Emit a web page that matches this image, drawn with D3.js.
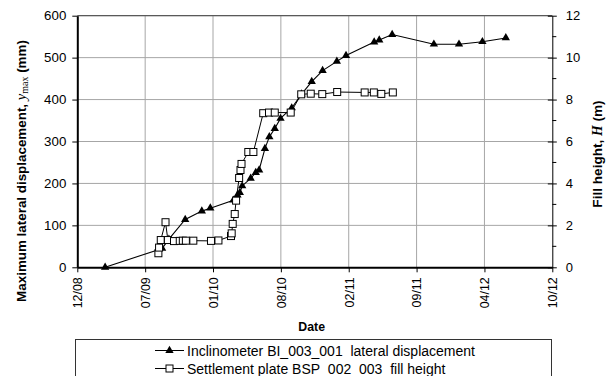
<!DOCTYPE html>
<html>
<head>
<meta charset="utf-8">
<script src="https://cdn.jsdelivr.net/npm/d3@7"></script>
<style>
  html, body { margin: 0; padding: 0; background: #fff; }
  svg { display: block; font-family: "Liberation Sans", Arial, sans-serif; }
</style>
</head>
<body>
<svg id="chart" width="611" height="376"></svg>
<script>
// Inclinometer BI_003_001: maximum lateral displacement (mm)
const inclDates = ["2009-03-10","2009-08-25","2009-09-14","2009-11-01","2009-12-20","2010-01-14",
  "2010-03-23","2010-04-04","2010-04-11","2010-04-18","2010-05-13","2010-05-28","2010-06-07",
  "2010-06-24","2010-07-07","2010-07-23","2010-08-09","2010-09-11","2010-10-10","2010-11-09",
  "2010-12-11","2011-01-22","2011-02-18","2011-05-12","2011-05-27","2011-07-04","2011-11-04",
  "2012-01-17","2012-03-26","2012-06-03"];
const inclValues = [0, 45, 67, 114, 134, 141,
  160, 172, 178, 194, 212, 226, 232,
  283, 311, 331, 355, 380, 413, 443,
  469, 491, 505, 537, 542, 555, 532,
  532, 538, 547];

// Settlement plate BSP_002_003: fill height (m)
const plateDates = ["2009-08-14","2009-08-16","2009-08-21","2009-09-04","2009-09-11","2009-09-29",
  "2009-10-16","2009-10-25","2009-11-03","2009-11-25","2010-01-16","2010-02-07","2010-03-16",
  "2010-03-18","2010-03-21","2010-03-27","2010-03-31","2010-04-09","2010-04-13","2010-04-16",
  "2010-05-06","2010-05-21","2010-06-19","2010-07-06","2010-07-23","2010-09-08","2010-10-09",
  "2010-11-06","2010-12-10","2011-01-23","2011-04-14","2011-05-11","2011-06-02","2011-07-06"];
const plateValues = [0.67, 0.94, 1.30, 2.15, 1.30, 1.25,
  1.26, 1.27, 1.27, 1.27, 1.26, 1.28, 1.49,
  1.62, 2.07, 2.54, 3.18, 4.26, 4.64, 4.93,
  5.50, 5.50, 7.35, 7.38, 7.38, 7.38, 8.25,
  8.28, 8.26, 8.36, 8.34, 8.34, 8.27, 8.34];

// Date axis: ticks every 200 days, labelled mm/yy
const dateTicks = ["2008-12-18","2009-07-06","2010-01-22","2010-08-10","2011-02-26",
  "2011-09-14","2012-04-01","2012-10-18"];
const leftTicks = [0, 100, 200, 300, 400, 500, 600];
const rightTicks = [0, 2, 4, 6, 8, 10, 12];
const rightMinorTicks = [1, 3, 5, 7, 9, 11];

const legendLabels = ["Inclinometer BI_003_001  lateral displacement",
  "Settlement plate BSP_002_003  fill height"];

const parse = d3.utcParse("%Y-%m-%d");
const fmt = d3.utcFormat("%m/%y");

const svg = d3.select("#chart");
const m = { left: 77.3, right: 552.3, top: 15.7, bottom: 267.3 };

const x = d3.scaleUtc()
  .domain([parse(dateTicks[0]), parse(dateTicks[dateTicks.length - 1])])
  .range([m.left, m.right]);
const yL = d3.scaleLinear().domain([0, 600]).range([m.bottom, m.top]);
const yR = d3.scaleLinear().domain([0, 12]).range([m.bottom, m.top]);

// gridlines
const grid = svg.append("g").attr("stroke", "#a6a6a6").attr("stroke-width", 1);
grid.selectAll("line.h").data(leftTicks.slice(1)).join("line")
  .attr("x1", m.left).attr("x2", m.right)
  .attr("y1", d => yL(d)).attr("y2", d => yL(d));
grid.selectAll("line.v").data(dateTicks.slice(1, -1)).join("line")
  .attr("y1", m.top).attr("y2", m.bottom)
  .attr("x1", d => x(parse(d))).attr("x2", d => x(parse(d)));

// top border
svg.append("line").attr("x1", m.left).attr("x2", m.right)
  .attr("y1", m.top).attr("y2", m.top).attr("stroke", "#444").attr("stroke-width", 1);

// left axis
const gL = svg.append("g").attr("transform", `translate(${m.left},0)`)
  .call(d3.axisLeft(yL).tickValues(leftTicks).tickSize(5).tickPadding(6).tickSizeOuter(0));
gL.select(".domain").attr("stroke", "#000").attr("stroke-width", 2);
gL.selectAll(".tick text").attr("font-size", 13.3).attr("fill", "#000");

// right axis (major ticks crossing the line, minor ticks outside)
const gR = svg.append("g").attr("transform", `translate(${m.right},0)`)
  .call(d3.axisRight(yR).tickValues(rightTicks).tickSize(4.5).tickPadding(9).tickSizeOuter(0));
gR.select(".domain").attr("stroke", "#000").attr("stroke-width", 1);
gR.selectAll(".tick line").attr("x1", -4.5);
gR.selectAll(".tick text").attr("font-size", 13).attr("fill", "#000");
gR.selectAll("line.minor").data(rightMinorTicks).join("line")
  .attr("class", "minor")
  .attr("x1", 0).attr("x2", 4)
  .attr("y1", d => yR(d)).attr("y2", d => yR(d))
  .attr("stroke", "#000");

// bottom axis
const gB = svg.append("g").attr("transform", `translate(0,${m.bottom})`)
  .call(d3.axisBottom(x).tickValues(dateTicks.map(parse)).tickFormat(fmt).tickSize(5).tickSizeOuter(0));
gB.select(".domain").attr("stroke", "#000").attr("stroke-width", 2);
gB.selectAll(".tick text")
  .attr("font-size", 12.4).attr("fill", "#000")
  .attr("text-anchor", "end")
  .attr("transform", "rotate(-90)")
  .attr("x", -10).attr("y", 0).attr("dy", "0.35em");

// series
const incl = inclDates.map((d, i) => ({ date: parse(d), v: inclValues[i] }));
const plate = plateDates.map((d, i) => ({ date: parse(d), v: plateValues[i] }));

svg.append("path").datum(plate)
  .attr("fill", "none").attr("stroke", "#000").attr("stroke-width", 1)
  .attr("d", d3.line().x(d => x(d.date)).y(d => yR(d.v)));
svg.append("path").datum(incl)
  .attr("fill", "none").attr("stroke", "#000").attr("stroke-width", 1.1)
  .attr("d", d3.line().x(d => x(d.date)).y(d => yL(d.v)));

const tri = d3.symbol().type(d3.symbolTriangle).size(30);
svg.append("g").selectAll("path").data(incl).join("path")
  .attr("d", tri)
  .attr("transform", d => `translate(${x(d.date)},${yL(d.v)})`)
  .attr("fill", "#000");

svg.append("g").selectAll("rect").data(plate).join("rect")
  .attr("x", d => x(d.date) - 3.5).attr("y", d => yR(d.v) - 3.5)
  .attr("width", 7).attr("height", 7)
  .attr("fill", "#fff").attr("stroke", "#000").attr("stroke-width", 1);

// axis titles
svg.append("text")
  .attr("x", 311.7).attr("y", 331)
  .attr("text-anchor", "middle").attr("font-size", 12.3).attr("font-weight", "bold")
  .text("Date");

const tl = svg.append("text")
  .attr("transform", "translate(26,171) rotate(-90)")
  .attr("text-anchor", "middle").attr("font-size", 13.4).attr("font-weight", "bold");
tl.append("tspan").text("Maximum lateral displacement, ");
tl.append("tspan").attr("font-family", "'Liberation Serif', 'Times New Roman', serif")
  .attr("font-style", "italic").attr("font-weight", "normal").attr("font-size", 14.5).text("y");
tl.append("tspan").attr("font-family", "'Liberation Serif', 'Times New Roman', serif")
  .attr("font-weight", "normal").attr("font-size", 10).attr("dy", 2).text("max");
tl.append("tspan").attr("dy", -2).text(" (mm)");

const tr = svg.append("text")
  .attr("transform", "translate(601.5,154) rotate(-90)")
  .attr("text-anchor", "middle").attr("font-size", 13.6).attr("font-weight", "bold");
tr.append("tspan").text("Fill height, ");
tr.append("tspan").attr("font-family", "'Liberation Serif', 'Times New Roman', serif")
  .attr("font-style", "italic").text("H");
tr.append("tspan").text(" (m)");

// legend
const lg = svg.append("g");
lg.append("rect").attr("x", 75.5).attr("y", 339.5).attr("width", 476).attr("height", 60)
  .attr("fill", "#fff").attr("stroke", "#333").attr("stroke-width", 1);
const rows = [355.5, 373.5];
legendLabels.forEach((lab, i) => {
  const cy = rows[i] - 5;
  lg.append("line").attr("x1", 155).attr("x2", 184).attr("y1", cy).attr("y2", cy)
    .attr("stroke", "#000").attr("stroke-width", 1);
  if (i === 0) {
    lg.append("path").attr("d", tri).attr("transform", `translate(169.5,${cy})`).attr("fill", "#000");
  } else {
    lg.append("rect").attr("x", 166).attr("y", cy - 3.5).attr("width", 7).attr("height", 7)
      .attr("fill", "#fff").attr("stroke", "#000");
  }
  lg.append("text").attr("x", 187).attr("y", rows[i]).attr("font-size", 14)
    .attr("fill", "#000").attr("xml:space", "preserve").style("white-space", "pre").text(lab);
});
</script>
</body>
</html>
